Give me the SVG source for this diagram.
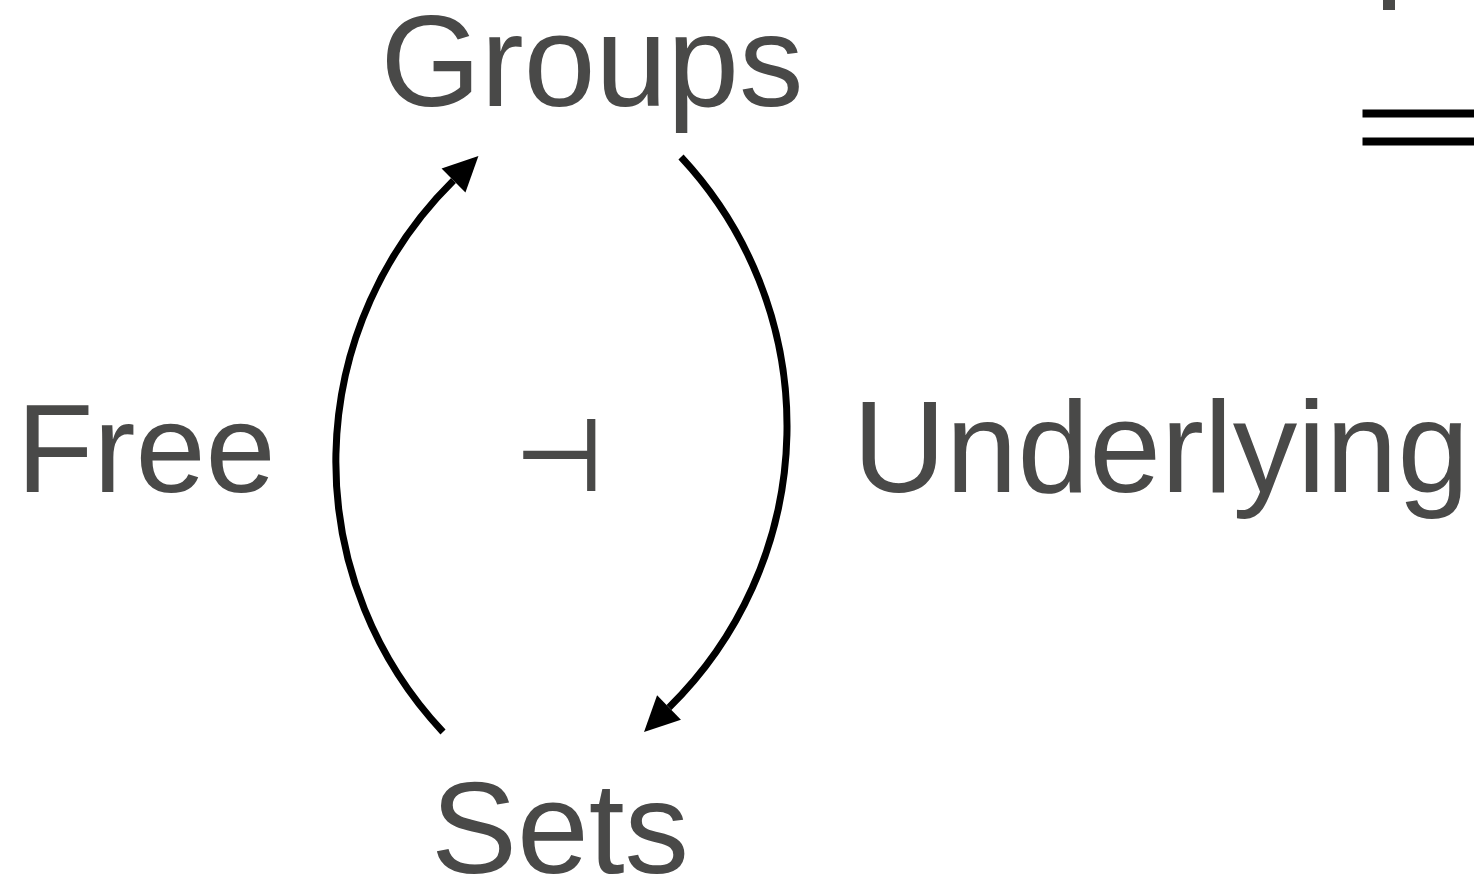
<svg xmlns="http://www.w3.org/2000/svg" width="1474" height="885" viewBox="0 0 1474 885">
  <style>
    .lbl { font-family: "Liberation Sans", Arial, Helvetica, sans-serif; font-size: 129px; fill: #494948; text-anchor: middle; }
    .sym { font-family: "DejaVu Sans", sans-serif; font-size: 100px; fill: #494948; stroke: #494948; stroke-width: 2; text-anchor: middle; }
    .edge { fill: none; stroke: #000; stroke-width: 7; }
  </style>
  <defs>
    <marker id="arrow" markerUnits="userSpaceOnUse" viewBox="0 -20 40 40" markerWidth="40" markerHeight="40" refX="0" refY="0" orient="auto" overflow="visible">
      <path d="M0,-17 L35,0 L0,17 Z" fill="#000"/>
    </marker>
  </defs>
  <rect width="1474" height="885" fill="#fff"/>
  <g id="connectors">
    <path id="free" class="edge" d="M443,732 A394.7,394.7 0 0 1 453.5,180.5" marker-end="url(#arrow)"/>
    <path id="underlying" class="edge" d="M681,157 A394.5,394.5 0 0 1 669,707.5" marker-end="url(#arrow)"/>
  </g>
  <g id="groups"><text class="lbl" x="592" y="106">Groups</text></g>
  <g id="sets"><text class="lbl" x="560" y="873">Sets</text></g>
  <g id="free-label"><text class="lbl" x="146" y="492" style="font-size:126px">Free</text></g>
  <g id="underlying-label"><text class="lbl" x="1161" y="492">Underlying</text></g>
  <g id="adjoint"><text class="sym" x="559" y="490">⊣</text></g>
  <g id="cropped">
    <rect x="1383" y="0" width="12" height="10" fill="#494948"/>
    <rect x="1362.5" y="109.5" width="112" height="8" fill="#000"/>
    <rect x="1362.5" y="137.5" width="112" height="8" fill="#000"/>
  </g>
</svg>
